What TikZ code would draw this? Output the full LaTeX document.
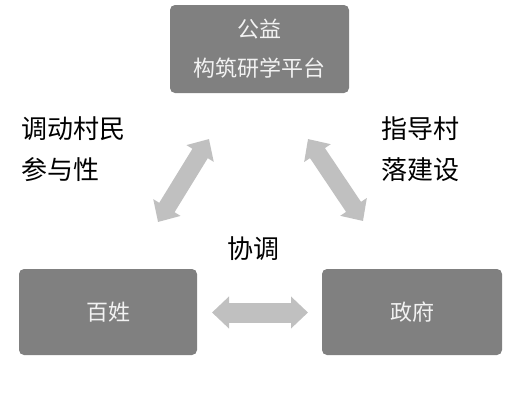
\documentclass[tikz,border=0pt]{standalone}
\usepackage{fontspec}
\newfontfamily\cjk{Noto Sans CJK SC}
\usetikzlibrary{arrows.meta}
\definecolor{boxgray}{HTML}{808080}
\definecolor{arrgray}{HTML}{C0C0C0}
\definecolor{boxtext}{HTML}{F2F2F2}
\begin{document}
\begin{tikzpicture}[x=1pt,y=-1pt,
  boxnode/.style={fill=boxgray,rounded corners=5pt,inner sep=0pt,text=boxtext,
    font=\cjk\fontsize{22}{39}\selectfont,align=center},
  lbl/.style={inner sep=0pt,text=black,font=\cjk\fontsize{26}{41}\selectfont,align=left,anchor=north west},
  blockarrow/.style={draw=arrgray,line width=#1,
    {Triangle[width=31pt,length=17pt]}-{Triangle[width=31pt,length=17pt]}},
]
\useasboundingbox (0,0) rectangle (512,400);
\node[boxnode,minimum width=179pt,minimum height=88pt] (top) at (259.5,49) {公益\\构筑研学平台};
\node[boxnode,minimum width=178pt,minimum height=86pt] (bl) at (108,312) {百姓};
\node[boxnode,minimum width=180pt,minimum height=86pt] (br) at (412,312) {政府};
\coordinate (l1) at (158,222);
\coordinate (l2) at (209,139);
\coordinate (r1) at (308,139);
\coordinate (r2) at (363,221);
\coordinate (h1) at (212,312.5);
\coordinate (h2) at (308,312.5);
\draw[blockarrow=18pt] (l1) -- (l2);
\draw[blockarrow=18pt] (r1) -- (r2);
\draw[blockarrow=20pt] (h1) -- (h2);
\node[lbl] (tl) at (21,116) {调动村民\\参与性};
\node[lbl] (tr) at (381,116) {指导村\\落建设};
\node[lbl,anchor=center] (tm) at (253,248.5) {协调};
\end{tikzpicture}
\end{document}
